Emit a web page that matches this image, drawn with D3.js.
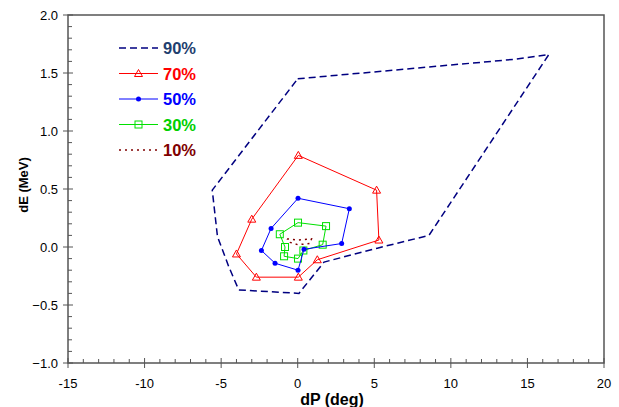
<!DOCTYPE html>
<html>
<head>
<meta charset="utf-8">
<script src="https://d3js.org/d3.v7.min.js"></script>
<style>
  html, body { margin: 0; padding: 0; background: #fff; }
  svg { display: block; font-family: "Liberation Sans", Arial, sans-serif; }
</style>
</head>
<body>
<svg id="chart" width="619" height="407"></svg>
<script>
// Contour levels (dP in deg, dE in MeV), each closed polygon
const labels = ['90%', '70%', '50%', '30%', '10%'];

const c90 = [
  [0.0, 1.45], [14.3, 1.62], [16.4, 1.66], [8.57, 0.10], [5.2, -0.01],
  [1.72, -0.13], [0.08, -0.40], [-3.85, -0.37], [-4.5, -0.17],
  [-5.24, 0.09], [-5.58, 0.49], [0.0, 1.45]
];
const c70 = [
  [0.04, 0.79], [5.15, 0.49], [5.3, 0.06], [1.28, -0.11], [0.04, -0.26],
  [-2.7, -0.26], [-4.0, -0.06], [-3.0, 0.24], [0.04, 0.79]
];
const c50 = [
  [0.02, 0.42], [3.37, 0.33], [2.87, 0.03], [0.41, -0.02], [0.02, -0.20],
  [-1.48, -0.14], [-2.37, -0.03], [-1.74, 0.16], [0.02, 0.42]
];
const c30 = [
  [0.02, 0.21], [1.85, 0.18], [1.63, 0.02], [0.37, -0.03], [0.02, -0.10],
  [-0.89, -0.08], [-0.83, 0.00], [-1.17, 0.11], [0.02, 0.21]
];
const c10 = [
  [-0.7, 0.07], [0.0, 0.06], [0.9, 0.07], [0.8, 0.03], [0.0, 0.02],
  [-0.5, 0.04], [-0.7, 0.07]
];

const xTicks = [-15, -10, -5, 0, 5, 10, 15, 20];
const yTicks = [-1.0, -0.5, 0.0, 0.5, 1.0, 1.5, 2.0];

const svg = d3.select('#chart');
const margin = { left: 68, top: 15, right: 604, bottom: 363 };

const x = d3.scaleLinear().domain([-15, 20]).range([margin.left, margin.right]);
const y = d3.scaleLinear().domain([-1, 2]).range([margin.bottom, margin.top]);

const axisColor = '#555';

// Frame
svg.append('rect')
  .attr('x', margin.left).attr('y', margin.top)
  .attr('width', margin.right - margin.left)
  .attr('height', margin.bottom - margin.top)
  .attr('fill', 'none')
  .attr('stroke', axisColor)
  .attr('stroke-width', 1.5);

// X ticks: majors cross the axis, minors point inside
const xMinor = d3.range(-15, 20.001, 1);
svg.append('g').selectAll('line')
  .data(xMinor).enter().append('line')
  .attr('x1', d => x(d)).attr('x2', d => x(d))
  .attr('y1', margin.bottom)
  .attr('y2', d => xTicks.includes(d) ? margin.bottom - 5 : margin.bottom - 4)
  .attr('stroke', axisColor);
svg.append('g').selectAll('line')
  .data(xTicks).enter().append('line')
  .attr('x1', d => x(d)).attr('x2', d => x(d))
  .attr('y1', margin.bottom).attr('y2', margin.bottom + 5)
  .attr('stroke', axisColor);
svg.append('g').selectAll('text')
  .data(xTicks).enter().append('text')
  .attr('x', d => x(d)).attr('y', 388)
  .attr('text-anchor', 'middle')
  .attr('font-size', 13)
  .text(d => d);

// Y ticks
const yMinor = d3.range(-10, 20.001, 1).map(v => v / 10);
svg.append('g').selectAll('line')
  .data(yMinor).enter().append('line')
  .attr('x1', margin.left)
  .attr('x2', d => margin.left + (Math.abs(d * 2 - Math.round(d * 2)) < 1e-6 ? 5 : 4))
  .attr('y1', d => y(d)).attr('y2', d => y(d))
  .attr('stroke', axisColor);
svg.append('g').selectAll('line')
  .data(yTicks).enter().append('line')
  .attr('x1', margin.left - 5).attr('x2', margin.left)
  .attr('y1', d => y(d)).attr('y2', d => y(d))
  .attr('stroke', axisColor);
svg.append('g').selectAll('text')
  .data(yTicks).enter().append('text')
  .attr('x', 58).attr('y', d => y(d) + 5)
  .attr('text-anchor', 'end')
  .attr('font-size', 13)
  .text(d => d3.format('.1f')(d));

// Axis titles
svg.append('text')
  .attr('x', 332).attr('y', 405)
  .attr('text-anchor', 'middle')
  .attr('font-size', 16).attr('font-weight', 'bold')
  .text('dP (deg)');
svg.append('text')
  .attr('transform', 'translate(28,185) rotate(-90)')
  .attr('text-anchor', 'middle')
  .attr('font-size', 13).attr('font-weight', 'bold')
  .text('dE (MeV)');

// Series
const series = [
  { name: labels[0], data: c90, color: '#000080', text: '#1F3F6F', dash: '7,4', width: 1.5, marker: null },
  { name: labels[1], data: c70, color: '#FF0000', text: '#FF0000', dash: null, width: 1, marker: 'triangle' },
  { name: labels[2], data: c50, color: '#0000FF', text: '#0000FF', dash: null, width: 1, marker: 'circle' },
  { name: labels[3], data: c30, color: '#00E000', text: '#00D000', dash: null, width: 1, marker: 'square' },
  { name: labels[4], data: c10, color: '#800000', text: '#800000', dash: '2,4', width: 1.5, marker: null }
];

const line = d3.line().x(d => x(d[0])).y(d => y(d[1]));
const plot = svg.append('g');

function drawMarker(g, type, px, py, color) {
  if (type === 'triangle') {
    g.append('path')
      .attr('d', `M${px},${py - 4}L${px + 4},${py + 3}L${px - 4},${py + 3}Z`)
      .attr('fill', 'none').attr('stroke', color).attr('stroke-width', 1);
  } else if (type === 'circle') {
    g.append('circle').attr('cx', px).attr('cy', py).attr('r', 2.5).attr('fill', color);
  } else if (type === 'square') {
    g.append('rect').attr('x', px - 3.5).attr('y', py - 3.5)
      .attr('width', 7).attr('height', 7)
      .attr('fill', 'none').attr('stroke', color).attr('stroke-width', 1);
  }
}

series.slice().reverse().forEach(s => {
  const g = plot.append('g');
  g.append('path')
    .attr('d', line(s.data))
    .attr('fill', 'none')
    .attr('stroke', s.color)
    .attr('stroke-width', s.width)
    .attr('stroke-dasharray', s.dash);
  if (s.marker) {
    s.data.slice(0, -1).forEach(p => drawMarker(g, s.marker, x(p[0]), y(p[1]), s.color));
  }
});

// Legend
const legend = svg.append('g');
series.forEach((s, i) => {
  const ly = 48 + i * 25.5;
  legend.append('line')
    .attr('x1', 119).attr('x2', 158)
    .attr('y1', ly).attr('y2', ly)
    .attr('stroke', s.color)
    .attr('stroke-width', s.width)
    .attr('stroke-dasharray', s.dash);
  if (s.marker) drawMarker(legend, s.marker, 138.5, ly, s.color);
  legend.append('text')
    .attr('x', 163).attr('y', ly + 6)
    .attr('font-size', 16.5).attr('font-weight', 'bold')
    .attr('fill', s.text)
    .text(s.name);
});
</script>
</body>
</html>
